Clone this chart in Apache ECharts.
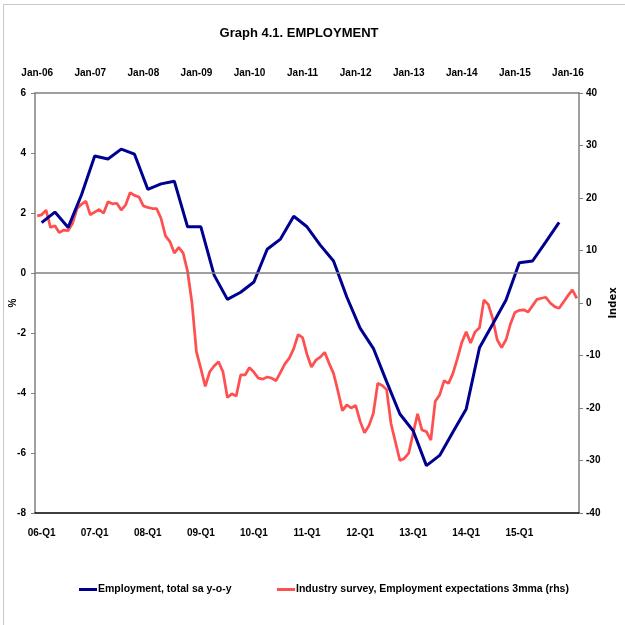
<!DOCTYPE html>
<html>
<head>
<meta charset="utf-8">
<script src="https://cdn.jsdelivr.net/npm/echarts@6/dist/echarts.min.js"></script>
<style>
html,body{margin:0;padding:0;background:#fff;}
#c{width:625px;height:625px;}
</style>
</head>
<body>
<div id="c"></div>
<script>
// Quarterly categories 06-Q1 .. 16-Q1
const quarters = [];
for (let y = 6; y <= 16; y++) {
  for (let q = 1; q <= 4; q++) {
    if (y === 16 && q > 1) break;
    quarters.push((y < 10 ? '0' : '') + y + '-Q' + q);
  }
}
// Monthly categories Jan-06 .. Mar-16
const monthNames = ['Jan','Feb','Mar','Apr','May','Jun','Jul','Aug','Sep','Oct','Nov','Dec'];
const months = [];
for (let y = 6; y <= 16; y++) {
  for (let m = 0; m < 12; m++) {
    if (y === 16 && m > 2) break;
    months.push(monthNames[m] + '-' + (y < 10 ? '0' : '') + y);
  }
}

// Employment, total sa y-o-y (%), quarterly 06-Q1 .. 15-Q4
const employment = [
  1.68, 2.03, 1.52, 2.6,
  3.9, 3.8, 4.13, 3.96,
  2.79, 2.97, 3.06, 1.54,
  1.54, -0.07, -0.88, -0.64,
  -0.3, 0.79, 1.13, 1.89,
  1.54, 0.93, 0.4, -0.8,
  -1.84, -2.51, -3.62, -4.7,
  -5.26, -6.42, -6.08, -5.3,
  -4.53, -2.49, -1.7, -0.9,
  0.34, 0.4, 1.04, 1.69,
  null
];

// Industry survey, Employment expectations 3mma (index), monthly Jan-06 .. Mar-16
const expectations = [
  16.6, 16.8, 17.7, 14.4, 14.7, 13.4, 13.9, 13.8, 15.2, 18.0, 18.8, 19.4,
  16.8, 17.3, 17.8, 17.1, 19.3, 18.9, 19.0, 17.7, 18.7, 21.0, 20.5, 20.2,
  18.5, 18.2, 18.0, 18.0, 16.1, 12.8, 11.7, 9.5, 10.6, 9.5, 6.0, 0.0,
  -9.3, -12.5, -15.9, -13.1, -12.0, -11.2, -13.1, -18.0, -17.3, -17.7, -13.7, -13.7,
  -12.3, -13.2, -14.3, -14.5, -14.1, -14.3, -14.8, -13.2, -11.6, -10.5, -8.7, -6.0,
  -6.6, -9.8, -12.2, -10.9, -10.3, -9.4, -11.5, -13.4, -16.8, -20.5, -19.4, -20.0,
  -19.5, -22.5, -24.7, -23.4, -21.0, -15.3, -15.7, -16.5, -23.0, -26.5, -30.0, -29.6,
  -28.6, -24.8, -21.1, -24.2, -24.5, -26.1, -18.7, -17.5, -14.8, -15.3, -13.4, -10.6,
  -7.5, -5.5, -7.6, -5.5, -4.7, 0.6, -0.3, -3.0, -7.0, -8.5, -7.0, -4.0,
  -1.8, -1.4, -1.3, -1.7, -0.5, 0.7, 0.9, 1.1, 0.0, -0.7, -1.0, 0.2,
  1.4, 2.5, 0.9
];

const NAME_EMP = 'Employment, total sa y-o-y';
const NAME_EXP = 'Industry survey, Employment expectations 3mma (rhs)';

const FONT = "'Liberation Sans', Arial, sans-serif";
const lbl = {fontFamily: FONT, fontWeight: 'bold', fontSize: 10, color: '#000'};

const chart = echarts.init(document.getElementById('c'), null, {renderer: 'canvas'});
chart.setOption({
  animation: false,
  backgroundColor: '#fff',
  title: {
    text: 'Graph 4.1. EMPLOYMENT',
    left: 294, top: 22, textAlign: 'center',
    textStyle: {fontFamily: FONT, fontWeight: 'bold', fontSize: 13, color: '#000'}
  },
  graphic: [{
    type: 'rect', shape: {x: 3.5, y: 4.5, width: 700, height: 700},
    style: {fill: 'none', stroke: '#c8c8c8', lineWidth: 1}, silent: true, z: -1
  }],
  legend: [{
    top: 579, left: 74, itemWidth: 18, itemHeight: 3, icon: 'rect',
    textStyle: Object.assign({}, lbl, {fontSize: 10.5, padding: [0,0,0,-4]}),
    data: [NAME_EMP]
  }, {
    top: 579, left: 272, itemWidth: 18, itemHeight: 3, icon: 'rect',
    textStyle: Object.assign({}, lbl, {fontSize: 10.5, padding: [0,0,0,-4]}),
    data: [NAME_EXP]
  }],
  grid: {left: 35, right: 46, top: 93, bottom: 112, containLabel: false, outerBoundsMode: 'none'},
  xAxis: [{
    type: 'category', data: quarters, position: 'bottom', boundaryGap: true,
    axisLine: {show: true, onZero: false, lineStyle: {color: '#000', width: 1.5}},
    axisTick: {show: false},
    axisLabel: Object.assign({}, lbl, {
      margin: 15,
      interval: function (i) { return i % 4 === 0 && i < 40; }
    }),
    splitLine: {show: false}
  }, {
    type: 'category', data: months, position: 'top', boundaryGap: true,
    axisLine: {show: true, onZero: false, lineStyle: {color: '#808080', width: 1.5}},
    axisTick: {show: false},
    axisLabel: Object.assign({}, lbl, {interval: 11, margin: 15}),
    splitLine: {show: false}
  }],
  yAxis: [{
    type: 'value', min: -8, max: 6, interval: 2, position: 'left',
    name: '%', nameLocation: 'middle', nameGap: 17, nameRotate: 90, nameMoveOverlap: false,
    nameTextStyle: lbl,
    axisLine: {show: true, lineStyle: {color: '#808080', width: 1.5}},
    axisTick: {show: true, length: 4, lineStyle: {color: '#808080'}},
    axisLabel: Object.assign({}, lbl, {margin: 9}),
    splitLine: {show: false}
  }, {
    type: 'value', min: -40, max: 40, interval: 10, position: 'right',
    name: 'Index', nameLocation: 'middle', nameGap: 29, nameRotate: 90, nameMoveOverlap: false,
    nameTextStyle: {fontFamily: 'DejaVu Sans', fontWeight: 'bold', fontSize: 10, color: '#000'},
    axisLine: {show: true, lineStyle: {color: '#808080', width: 1.5}},
    axisTick: {show: true, length: 4, lineStyle: {color: '#808080'}},
    axisLabel: Object.assign({}, lbl, {margin: 7}),
    splitLine: {show: false}
  }],
  series: [{
    name: NAME_EMP,
    type: 'line', xAxisIndex: 0, yAxisIndex: 0,
    data: employment, showSymbol: false, symbol: 'none',
    lineStyle: {color: '#000090', width: 3},
    itemStyle: {color: '#000090'},
    z: 3,
    markLine: {
      silent: true, symbol: 'none', label: {show: false},
      lineStyle: {color: '#808080', width: 1.5, type: 'solid'},
      data: [{yAxis: 0}]
    }
  }, {
    name: NAME_EXP,
    type: 'line', xAxisIndex: 1, yAxisIndex: 1,
    data: expectations, showSymbol: false, symbol: 'none',
    lineStyle: {color: '#FF5050', width: 2.75},
    itemStyle: {color: '#FF5050'},
    z: 2
  }]
});
</script>
</body>
</html>
